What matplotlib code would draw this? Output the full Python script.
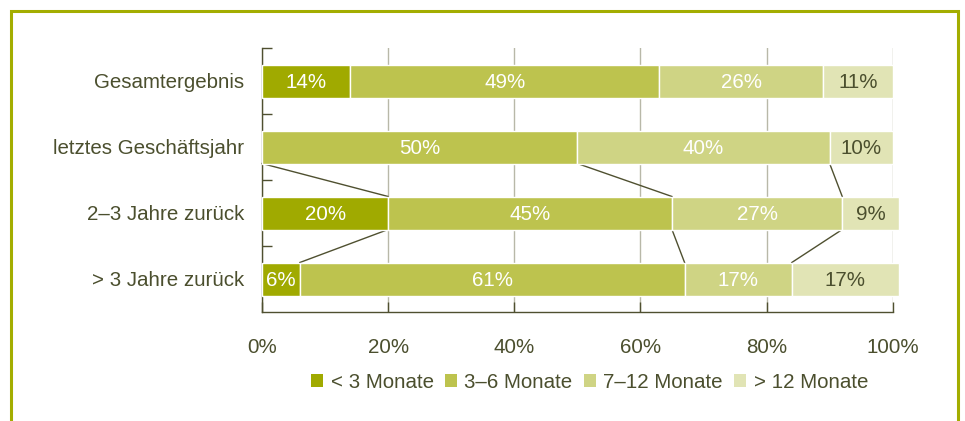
import matplotlib.pyplot as plt
import numpy as np
from matplotlib.patches import Patch, Rectangle

categories = ['Gesamtergebnis', 'letztes Geschäftsjahr', '2–3 Jahre zurück', '> 3 Jahre zurück']
series = ['< 3 Monate', '3–6 Monate', '7–12 Monate', '> 12 Monate']
values = np.array([
    [14, 49, 26, 11],
    [0, 50, 40, 10],
    [20, 45, 27, 9],
    [6, 61, 17, 17],
])
xticks = [0, 20, 40, 60, 80, 100]

colors = ['#a0aa00', '#bdc34e', '#cfd484', '#e1e4b5']
label_colors = ['white', 'white', 'white', '#4b4f2e']
text_color = '#4b4f2e'
dark = '#4f5030'

plt.rcParams['font.family'] = ['Liberation Sans', 'DejaVu Sans']
plt.rcParams['font.size'] = 14.8

fig = plt.figure(figsize=(9.65, 4.21), dpi=100)
ax = fig.add_axes([262 / 965, 1 - 312 / 421, (892.7 - 262) / 965, (312 - 48) / 421])

y = np.arange(len(categories))
left = np.zeros(len(categories))
for i, name in enumerate(series):
    ax.barh(y, values[:, i], left=left, height=0.5, color=colors[i],
            edgecolor='white', linewidth=1, clip_on=False, zorder=3)
    for yy, l, v in zip(y, left, values[:, i]):
        if v > 0:
            ax.text(l + v / 2, yy, f'{v}%', ha='center', va='center_baseline',
                    color=label_colors[i], zorder=4)
    left += values[:, i]

# series lines between the lower three bars
cum = np.cumsum(values, axis=1)
for r in (1, 2):
    for i in range(len(series) - 1):
        ax.plot([cum[r, i], cum[r + 1, i]], [r + 0.25, r + 1 - 0.25],
                color=dark, lw=1, zorder=2, clip_on=False)

ax.set_xlim(0, 100)
ax.set_ylim(3.5, -0.5)
ax.set_xticks(xticks)
ax.set_xticklabels([f'{t}%' for t in xticks])
ax.set_yticks(y)
ax.set_yticklabels(categories)
ax.set_yticks(np.arange(-0.5, 3.5, 1), minor=True)

ax.tick_params(axis='x', direction='in', length=7, width=1, color=dark,
               labelcolor=text_color, pad=19)
ax.tick_params(axis='y', which='major', length=0, labelcolor=text_color, pad=13)
ax.tick_params(axis='y', which='minor', direction='in', length=7, width=1, color=dark)

ax.grid(axis='x', color='#b8b8a8', lw=1, zorder=0)
ax.set_axisbelow(True)
for s in ('top', 'right'):
    ax.spines[s].set_visible(False)
for s in ('left', 'bottom'):
    ax.spines[s].set_color(dark)
    ax.spines[s].set_linewidth(1)

handles = [Patch(facecolor=c, edgecolor='none') for c in colors]
fig.legend(handles, series, loc='center', bbox_to_anchor=(589.5 / 965, 1 - 382 / 421),
           ncol=4, frameon=False, handlelength=0.6, handleheight=0.6,
           handletextpad=0.35, columnspacing=0.55, labelcolor=text_color)

# green frame round the figure
fig.patches.append(Rectangle((11 / 965, -0.05), (958 - 11) / 965, 1.05 - 11 / 421,
                             transform=fig.transFigure, fill=False,
                             edgecolor='#a3ad00', lw=2.2))

fig.savefig('out.png', dpi=100)
